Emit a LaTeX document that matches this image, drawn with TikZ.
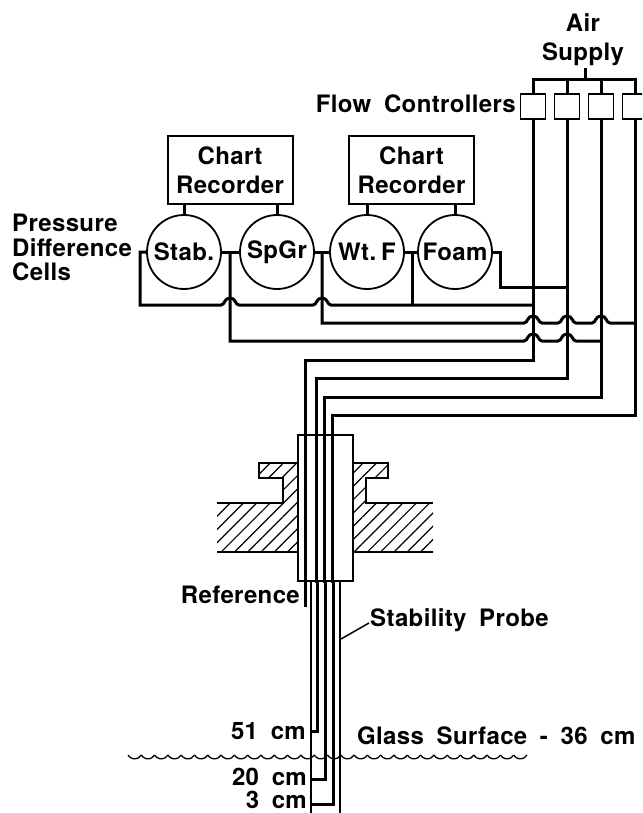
\documentclass[tikz,border=0pt]{standalone}
\usepackage{fontspec}
\setmainfont[LetterSpace=1.5,WordSpace=1.8]{TeX Gyre Heros}
\usetikzlibrary{patterns.meta,arrows.meta}
\tikzset{%
  label/.style={inner sep=0pt,font=\fontsize{24}{24.5}\selectfont\bfseries},
  recorder/.style={rectangle,draw,line width=2pt,minimum width=125pt,minimum height=67pt,inner sep=0pt,align=center,
    font=\fontsize{24}{29}\selectfont\bfseries},
  cell/.style={circle,draw,line width=1.8pt,minimum size=74pt,inner sep=0pt,font=\fontsize{24}{24}\selectfont\bfseries},
  controller/.style={rectangle,draw,line width=1.8pt,minimum width=25pt,minimum height=25pt,inner sep=0pt},
  pipe/.style={line width=3pt},
  hatched/.style={pattern={Lines[angle=45,distance=9.4pt,line width=1.2pt]},pattern color=black}
}
% bump of a line that passes over a vertical pipe
\newcommand{\hopover}[2]{-- (#1-9,#2) .. controls (#1-5,#2) and (#1-6,#2-7) .. (#1,#2-7)
  .. controls (#1+6,#2-7) and (#1+5,#2) .. (#1+9,#2)}
\begin{document}
\begin{tikzpicture}[x=1pt,y=-1pt]
    \useasboundingbox (0,0) rectangle (642,813);
    \clip (0,0) rectangle (642,813);
    \node[label,align=center] (air) at (583,40) {Air\\[4.5pt]Supply};
    \node[label,anchor=east] (flow) at (516,104) {Flow Controllers};
    \foreach \i/\x in {1/533,2/567,3/601,4/635}
      \node[controller] (fc\i) at (\x,106.5) {};
    \coordinate (feed) at (585,80);
    \draw[pipe] (feed |- 0,68) -- (feed);
    \draw[pipe] (fc1.north) |- (feed) -| (fc4.north);
    \draw[pipe] (fc2.north) -- (fc2.north |- feed);
    \draw[pipe] (fc3.north) -- (fc3.north |- feed);
    %
    \node[recorder] (rec1) at (230,170) {Chart\\Recorder};
    \node[recorder] (rec2) at (411.5,170) {Chart\\Recorder};
    \node[cell] (stab) at (184,252) {Stab.};
    \node[cell] (spgr) at (277,252) {SpGr};
    \node[cell] (wtf) at (367,252) {Wt.\kern5pt F};
    \node[cell] (foam) at (455,252) {Foam};
    \node[label,align=left,anchor=west] (cells) at (12,247.5) {Pressure\\Difference\\Cells};
    \draw[pipe] (stab.north) -- (stab.north |- rec1.south);
    \draw[pipe] (spgr.north) -- (spgr.north |- rec1.south);
    \draw[pipe] (wtf.north) -- (wtf.north |- rec2.south);
    \draw[pipe] (foam.north) -- (foam.north |- rec2.south);
    %
    \draw[pipe] (stab.west) -- (140,252) -- (140,305) \hopover{230}{305} \hopover{322}{305} -- (533,305);
    \draw[pipe] (stab.east) -- (spgr.west);
    \draw[pipe] (spgr.east) -- (wtf.west);
    \draw[pipe] (wtf.east) -- (foam.west);
    \draw[pipe] (foam.east) -- (500,252) -- (500,287) -- (567,287);
    \draw[pipe] (412,252) -- (412,305);
    \draw[pipe] (322,252) -- (322,323) \hopover{533}{323} \hopover{567}{323} \hopover{601}{323} -- (635,323);
    \draw[pipe] (230,252) -- (230,341) \hopover{533}{341} \hopover{567}{341} -- (601,341);
    %
    \node[rectangle,draw,line width=2pt,minimum width=55pt,minimum height=146pt,inner sep=0pt] (tube) at (325.5,508) {};
    \draw[pipe] (fc1.south) -- (533,360) -- (305,360) -- (305,607);
    \draw[pipe] (fc2.south) -- (567,378) -- (316,378) -- (316,581) -- (317,581) -- (317,731) -- (311,731);
    \draw[pipe] (fc3.south) -- (601,397) -- (324,397) -- (324,581) -- (325,581) -- (325,779) -- (311,779);
    \draw[pipe] (fc4.south) -- (635,415) -- (332,415) -- (332,581) -- (333,581) -- (333,804) -- (311,804);
    \draw[line width=1.6pt] (311,581) -- (311,813);
    \draw[line width=1.6pt] (340,581) -- (340,813);
    %
    \fill[hatched] (tube.west |- 0,463) -- (259,463) -- (259,478) -- (283,478) -- (283,503) -- (217,503)
      -- (217,552) -- (tube.west |- 0,552) -- cycle;
    \fill[hatched] (tube.east |- 0,463) -- (388,463) -- (388,478) -- (366,478) -- (366,503) -- (433,503)
      -- (433,552) -- (tube.east |- 0,552) -- cycle;
    \draw[line width=2pt] (tube.west |- 0,463) -- (259,463) -- (259,478) -- (283,478) -- (283,503) -- (217,503);
    \draw[line width=2pt] (217,552) -- (tube.west |- 0,552);
    \draw[line width=2pt] (tube.east |- 0,463) -- (388,463) -- (388,478) -- (366,478) -- (366,503) -- (433,503);
    \draw[line width=2pt] (433,552) -- (tube.east |- 0,552);
    %
    \node[label,anchor=east] (reference) at (300,595) {Reference};
    \node[label,anchor=west] (probe) at (370,620) {Stability Probe};
    \coordinate (probetip) at (341,639);
    \draw[line width=1.5pt] (probe.west) ++(-1,3) -- (probetip);
    \node[label,anchor=east] (cm51) at (306,731) {51 cm};
    \node[label,anchor=east] (cm20) at (307,777) {20 cm};
    \node[label,anchor=east] (cm3) at (307,800) {3 cm};
    \node[label,anchor=west] (surface) at (357,736) {Glass Surface - 36 cm};
    \foreach \n in {0,...,29}
      \draw[line width=1.3pt] (128+\n*13.3,755) arc[start angle=150,end angle=30,radius=7.7];
  \end{tikzpicture}
\end{document}
